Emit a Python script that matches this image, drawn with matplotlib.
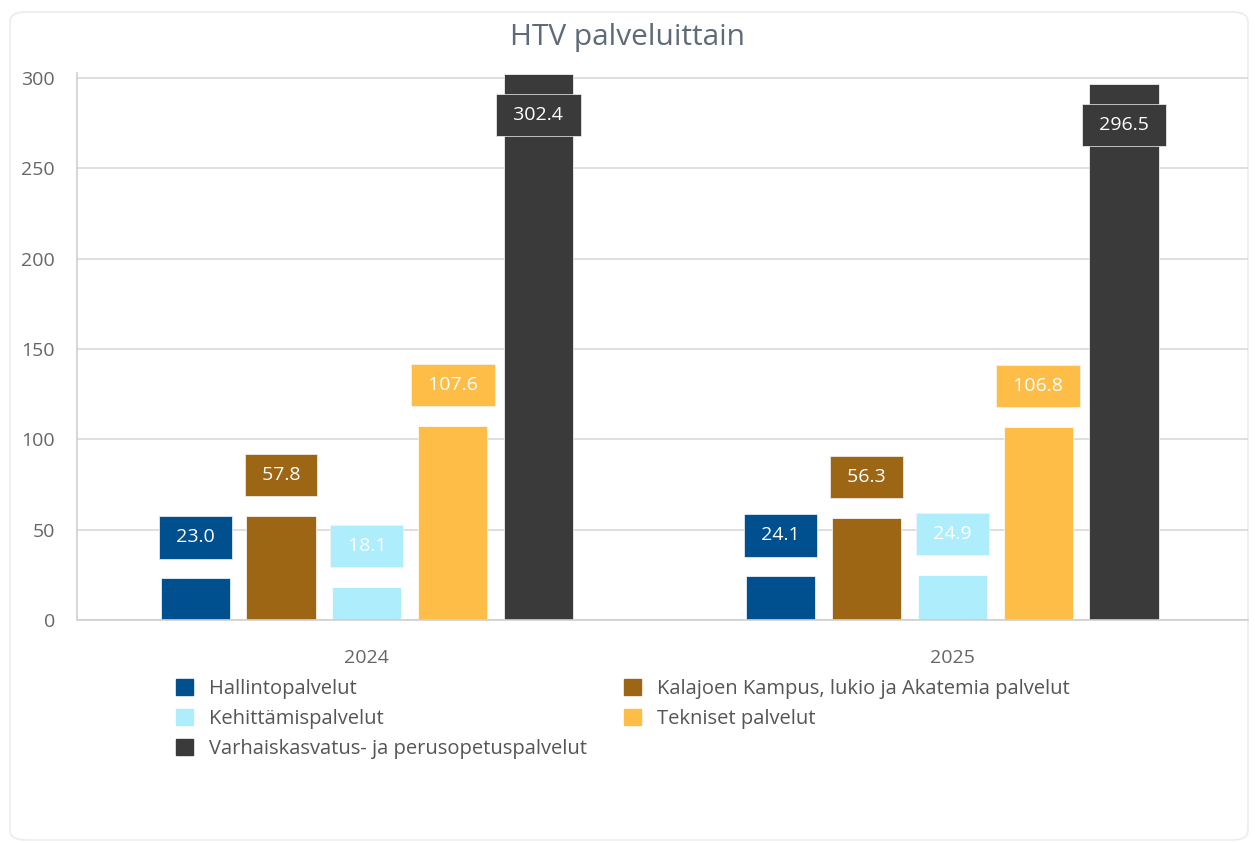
import numpy as np
import matplotlib.pyplot as plt
from matplotlib.patches import FancyBboxPatch, Patch

plt.rcParams['font.family'] = ['Open Sans', 'DejaVu Sans']

years = ['2024', '2025']
services = ['Hallintopalvelut',
            'Kalajoen Kampus, lukio ja Akatemia palvelut',
            'Kehittämispalvelut',
            'Tekniset palvelut',
            'Varhaiskasvatus- ja perusopetuspalvelut']
hallinto = [23.0, 24.1]
kalajoki = [57.8, 56.3]
kehittamis = [18.1, 24.9]
tekniset = [107.6, 106.8]
varhais = [302.4, 296.5]
colors = ['#00508F', '#9C6615', '#AEEDFC', '#FDBD47', '#3A3A3A']

series = [hallinto, kalajoki, kehittamis, tekniset, varhais]

fig = plt.figure(figsize=(12.55, 8.43), dpi=100)
fig.patches.append(FancyBboxPatch((10 / 1255, 3 / 843), 1238 / 1255, 828 / 843,
                                  boxstyle='round,pad=0,rounding_size=0.012',
                                  transform=fig.transFigure, fc='white',
                                  ec='#ececec', lw=1.2, zorder=-1))
ax = fig.add_axes([77 / 1255, 1 - 620 / 843, (1248 - 77) / 1255, (620 - 72.5) / 843])
ax.patch.set_alpha(0)

x = np.arange(len(years))
step = 0.1466
width = 0.118
for i, (vals, c) in enumerate(zip(series, colors)):
    pos = x + (i - 2) * step
    ax.bar(pos, vals, width, color=c, edgecolor='white', linewidth=0.5, zorder=2)
    for p, v in zip(pos, vals):
        if v > 250:
            off = -29.5
        else:
            off = 29.5
        ax.annotate(f' {v:.1f} ', (p, v), xytext=(0, off), textcoords='offset points',
                    ha='center', va='center', color='white', fontsize=14, zorder=4,
                    bbox=dict(boxstyle='square,pad=0.62', fc=c, ec='#f4f4f4', lw=0.5))

ax.set_xlim(-0.495, 1.505)
ax.set_ylim(0, 303)
ax.set_yticks([0, 50, 100, 150, 200, 250, 300])
ax.set_xticks(x)
ax.set_xticklabels(years)
ax.grid(axis='y', color='#d9d9d9', linewidth=1.2, zorder=0)
ax.set_axisbelow(True)
for s in ['top', 'right']:
    ax.spines[s].set_visible(False)
ax.spines['left'].set_color('#d0d0d0')
ax.spines['bottom'].set_color('#d0d0d0')
ax.spines['left'].set_linewidth(1.2)
ax.spines['bottom'].set_linewidth(1.2)
ax.tick_params(axis='both', length=0, labelsize=14, labelcolor='#666666')
ax.tick_params(axis='y', pad=16)
ax.tick_params(axis='x', pad=21)

fig.text(0.5, 1 - 38 / 843, 'HTV palveluittain', ha='center', va='center',
         fontsize=21.5, color='#5f6b78')

order = [0, 2, 4, 1, 3]
handles = [Patch(color=colors[k]) for k in order]
labels = [services[k] for k in order]
fig.legend(handles, labels, loc='upper left', bbox_to_anchor=(158 / 1255, 1 - 661 / 843),
           ncol=2, frameon=False, fontsize=14.5, labelcolor='#555555',
           handlelength=0.85, handleheight=0.85, handletextpad=0.8,
           columnspacing=1.8, labelspacing=0.5)

fig.savefig('out.png', dpi=100)
